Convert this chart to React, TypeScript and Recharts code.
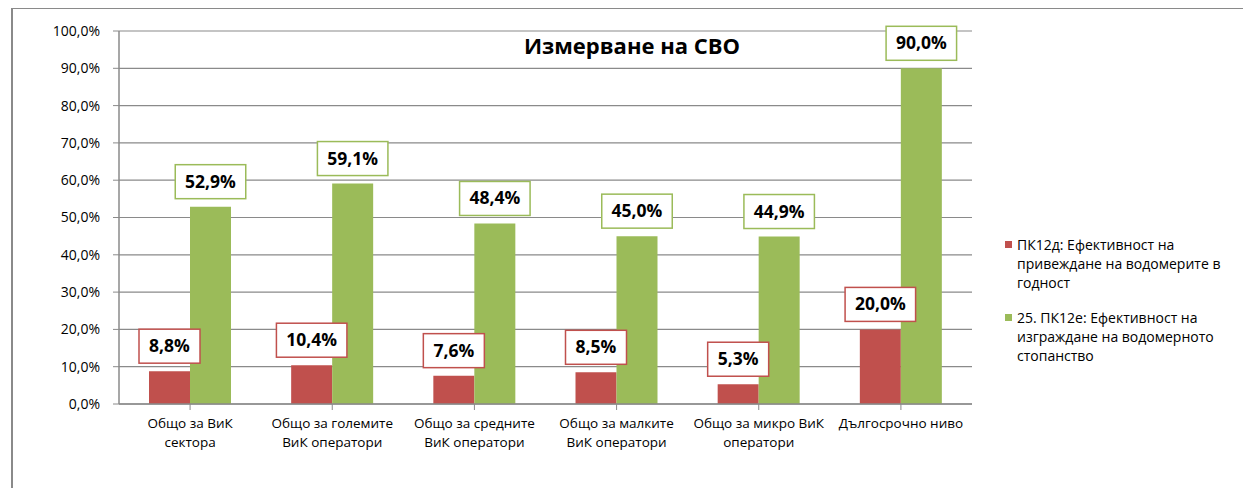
import React from 'react';
import { BarChart, Bar, XAxis, YAxis, CartesianGrid, LabelList } from 'recharts';

const categories = [
  'Общо за ВиК сектора',
  'Общо за големите ВиК оператори',
  'Общо за средните ВиК оператори',
  'Общо за малките ВиК оператори',
  'Общо за микро ВиК оператори',
  'Дългосрочно ниво',
];
const categoryLines = [
  ['Общо за ВиК', 'сектора'],
  ['Общо за големите', 'ВиК оператори'],
  ['Общо за средните', 'ВиК оператори'],
  ['Общо за малките', 'ВиК оператори'],
  ['Общо за микро ВиК', 'оператори'],
  ['Дългосрочно ниво'],
];
const seriesRedName = 'ПК12д: Ефективност на привеждане на водомерите в годност';
const seriesGreenName = '25. ПК12е: Ефективност на изграждане на водомерното стопанство';
const redValues = [8.8, 10.4, 7.6, 8.5, 5.3, 20.0];
const greenValues = [52.9, 59.1, 48.4, 45.0, 44.9, 90.0];
const yTicks = [0, 10, 20, 30, 40, 50, 60, 70, 80, 90, 100];
const title = 'Измерване на СВО';

const RED = '#C0504D';
const GREEN = '#9BBB59';
const GRID = '#8A8A8A';
const FONT = '"Open Sans", sans-serif';

const data = categories.map((c, i) => ({ name: c, red: redValues[i], green: greenValues[i], idx: i }));

const fmt = (v: number) => v.toFixed(1).replace('.', ',') + '%';

const XTick = (props: any) => {
  const { x, y, index } = props;
  const lines = categoryLines[index] || [];
  return (
    <text x={x} y={y} textAnchor="middle" fontFamily={FONT} fontSize={13.5} fill="#000">
      {lines.map((l, i) => (
        <tspan key={i} x={x} dy={i === 0 ? 16 : 19}>{l}</tspan>
      ))}
    </text>
  );
};

const makeLabel = (color: string) => (props: any) => {
  const { x, y, width, value } = props;
  const s = fmt(Number(value));
  const w = 9.5 * s.length + 23;
  const h = 34;
  const cx = x + width / 2;
  const bottom = y - 8;
  return (
    <g>
      <rect x={cx - w / 2} y={bottom - h} width={w} height={h} fill="#fff" stroke={color} strokeWidth={1.5} />
      <text x={cx} y={bottom - h / 2 + 6} textAnchor="middle" fontFamily={FONT} fontWeight={700} fontSize={17.5} fill="#000">{s}</text>
    </g>
  );
};

const legendItems = [
  { name: seriesRedName, color: RED, top: 226 },
  { name: seriesGreenName, color: GREEN, top: 299 },
];

export default function App() {
  return (
    <div style={{ marginLeft: 3, marginTop: -1, borderTop: '2px solid #8A8A8A', borderLeft: '2px solid #8A8A8A', width: 1245, height: 490, boxSizing: 'border-box' }}>
      <div style={{ position: 'relative', width: 1238, height: 478 }}>
        <BarChart width={1238} height={478} data={data} margin={{ top: 22, right: 279, bottom: 0, left: 0 }} barGap={0}>
          <CartesianGrid vertical={false} stroke={GRID} strokeWidth={1.2} />
          <XAxis dataKey="name" height={83} interval={0} tick={<XTick />} tickLine={{ stroke: GRID }} axisLine={{ stroke: GRID, strokeWidth: 1.5 }} tickSize={6} tickMargin={2} />
          <YAxis width={106} domain={[0, 100]} ticks={yTicks} tickFormatter={fmt} interval={0} tick={{ fontFamily: FONT, fontSize: 14, fill: '#000' }} tickLine={{ stroke: GRID }} axisLine={{ stroke: GRID, strokeWidth: 1.5 }} tickSize={6} tickMargin={13} />
          <Bar dataKey="red" name={seriesRedName} fill={RED} barSize={41} isAnimationActive={false}>
            <LabelList dataKey="red" content={makeLabel(RED)} />
          </Bar>
          <Bar dataKey="green" name={seriesGreenName} fill={GREEN} barSize={41} isAnimationActive={false}>
            <LabelList dataKey="green" content={makeLabel(GREEN)} />
          </Bar>
        </BarChart>
        <div style={{ position: 'absolute', left: 419, width: 400, top: 21, textAlign: 'center', fontFamily: FONT, fontWeight: 700, fontSize: 22, lineHeight: '30px', color: '#000' }}>{title}</div>
        {legendItems.map((it, i) => (
          <div key={i} style={{ position: 'absolute', left: 992, top: it.top, width: 245, fontFamily: FONT, fontSize: 14, lineHeight: '19px', color: '#000' }}>
            <span style={{ position: 'absolute', left: 0, top: 6, width: 7, height: 7, background: it.color }} />
            <div style={{ marginLeft: 12, width: 226 }}>{it.name}</div>
          </div>
        ))}
      </div>
    </div>
  );
}
